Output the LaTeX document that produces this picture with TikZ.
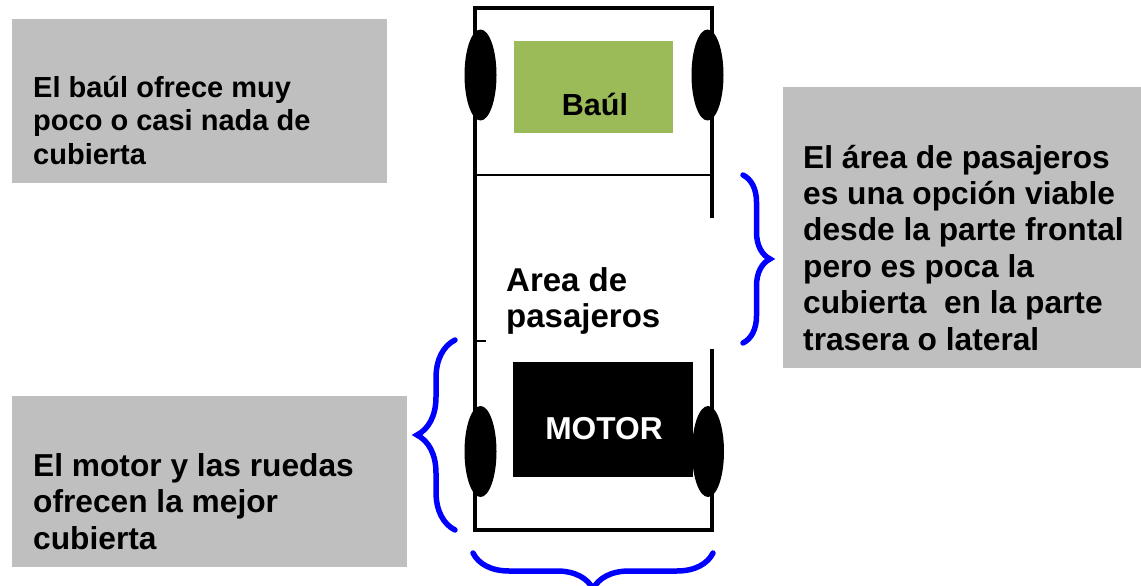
\documentclass[tikz,border=0pt]{standalone}
\usepackage{fontspec}
\setmainfont{Liberation Sans}
\usetikzlibrary{shapes.geometric,decorations.pathreplacing}
\definecolor{notegray}{HTML}{BFBFBF}
\definecolor{baulgreen}{HTML}{9BBB59}
\tikzstyle{note}=[fill=notegray,draw=none,inner sep=0pt]
\tikzstyle{notetext}=[font=\bfseries\fontsize{31.7}{36.4}\selectfont,align=left,anchor=base west,inner sep=0pt]
\tikzstyle{wheel}=[ellipse,fill=black,minimum width=32pt,minimum height=91pt,inner sep=0pt]
\tikzstyle{carline}=[draw,line width=4.5pt]
\tikzstyle{bluebrace}=[draw=blue,line width=5.5pt,line cap=round,decorate]

\begin{document}
\begin{tikzpicture}[x=1pt,y=-1pt]
    \useasboundingbox (0,0) rectangle (1141,586);

    % gray notes
    \node[note,minimum width=375pt,minimum height=164pt] (notebaul) at (199.5,101) {};
    \node[note,minimum width=358pt,minimum height=281pt] (notepasaj) at (962,227.5) {};
    \node[note,minimum width=395pt,minimum height=171pt] (notemotor) at (209.5,481.5) {};

    % (base = last line)
    \node[notetext,font=\bfseries\fontsize{29}{33.5}\selectfont] (txtbaul) at (33,164)
        {El baúl ofrece muy\\poco o casi nada de\\cubierta};
    \node[notetext] (txtpasaj) at (803,350)
        {El área de pasajeros\\es una opción viable\\desde la parte frontal\\pero es poca la\\cubierta\ \ en la parte\\trasera o lateral};
    \node[notetext] (txtmotor) at (33,549)
        {El motor y las ruedas\\ofrecen la mejor\\cubierta};

    % car body
    \draw[carline] (712,218) -- (712,8) -- (475,8) -- (475,530) -- (712,530) -- (712,349);
    \draw[line width=2pt] (475,175) -- (712,175);
    \draw[line width=1.5pt] (475,341) -- (486,341);

    \foreach \pos/ \name in {{(480.5,75)/wtl},{(707.5,75)/wtr},{(480.5,451.5)/wbl},{(708,451.5)/wbr}}
        \node[wheel] (\name) at \pos {};

    \node[fill=baulgreen,minimum width=159pt,minimum height=92pt,inner sep=0pt] (baul) at (593.5,87) {};
    \node[font=\bfseries\fontsize{30.5}{34}\selectfont,anchor=base,inner sep=0pt] at (595,115) {Baúl};

    \node[fill=black,minimum width=180pt,minimum height=115pt,inner sep=0pt] (motor) at (603,419.5) {};
    \node[font=\bfseries\fontsize{31.7}{36}\selectfont,text=white,anchor=base,inner sep=0pt] at (604,439) {MOTOR};

    \node[notetext,font=\bfseries\fontsize{33}{36}\selectfont] (txtarea) at (506,327) {Area de\\pasajeros};

    % braces
    \draw[bluebrace,decoration={brace,amplitude=38pt}] (455,530) -- (455,340);
    \draw[bluebrace,decoration={brace,amplitude=27pt}] (743,175) -- (743,343);
    \draw[bluebrace,decoration={brace,amplitude=36pt}] (713,553) -- (473,553);
\end{tikzpicture}
\end{document}
